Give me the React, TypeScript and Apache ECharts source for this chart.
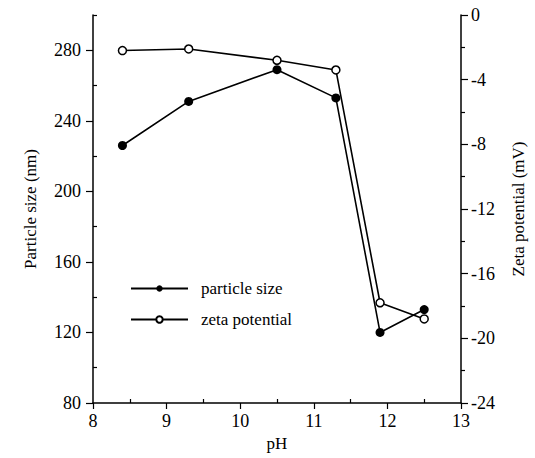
import React, { useEffect, useRef } from "react";
import * as echarts from "echarts";

const pH = [8.4, 9.3, 10.5, 11.3, 11.9, 12.5];
const particleSize = [226, 251, 269, 253, 120, 133];
const zetaPotential = [-2.2, -2.1, -2.8, -3.4, -17.8, -18.8];

const xMajor = [8, 9, 10, 11, 12, 13];
const xMinor = [8.5, 9.5, 10.5, 11.5, 12.5];
const leftMajor = [80, 120, 160, 200, 240, 280];
const leftMinor = [100, 140, 180, 220, 260, 300];
const rightMajor = [0, -4, -8, -12, -16, -20, -24];
const rightMinor = [-2, -6, -10, -14, -18, -22];

const FONT = "'Liberation Serif', 'Times New Roman', serif";

export default function App() {
  const ref = useRef<HTMLDivElement>(null);
  useEffect(() => {
    document.body.style.margin = "0";
    if (!ref.current) return;
    const chart = echarts.init(ref.current, null, { renderer: "svg" });
    const lineAxis = { show: true, onZero: false, lineStyle: { color: "#000", width: 1.5 } };
    const label = { color: "#000", fontFamily: FONT, fontSize: 18 };
    const nameStyle = { color: "#000", fontFamily: FONT, fontSize: 17 };
    chart.setOption({
      animation: false,
      backgroundColor: "#fff",
      grid: { left: 93, right: 74, top: 15, bottom: 55 },
      legend: {
        orient: "vertical",
        left: 125,
        top: 275,
        itemWidth: 57,
        itemHeight: 8,
        itemGap: 14,
        textStyle: { color: "#000", fontFamily: FONT, fontSize: 17, padding: [0, 0, 0, 8] },
        data: ["particle size", "zeta potential"],
      },
      xAxis: [
        {
          type: "value",
          min: 8,
          max: 13,
          interval: 1,
          position: "bottom",
          splitLine: { show: false },
          axisLine: lineAxis,
          axisTick: { show: true, length: 6, lineStyle: { color: "#000", width: 1.2 }, customValues: xMajor },
          axisLabel: { ...label, margin: 9, customValues: xMajor },
          name: "pH",
          nameLocation: "middle",
          nameGap: 29,
          nameTextStyle: nameStyle,
        },
        {
          type: "value",
          min: 8,
          max: 13,
          position: "bottom",
          splitLine: { show: false },
          axisLine: { show: false, onZero: false },
          axisTick: { show: true, inside: true, length: 4, lineStyle: { color: "#000", width: 1.2 }, customValues: xMinor },
          axisLabel: { show: false },
        },
      ],
      yAxis: [
        {
          type: "value",
          min: 80,
          max: 300,
          position: "left",
          splitLine: { show: false },
          axisLine: lineAxis,
          axisTick: { show: true, length: 7, lineStyle: { color: "#000", width: 1.2 }, customValues: leftMajor },
          axisLabel: { ...label, margin: 12, customValues: leftMajor },
          name: "Particle size (nm)",
          nameLocation: "middle",
          nameGap: 54,
          nameTextStyle: nameStyle,
        },
        {
          type: "value",
          min: -24,
          max: 0,
          position: "right",
          splitLine: { show: false },
          axisLine: lineAxis,
          axisTick: { show: true, length: 7, lineStyle: { color: "#000", width: 1.2 }, customValues: rightMajor },
          axisLabel: { ...label, margin: 10, customValues: rightMajor },
          name: "Zeta potential (mV)",
          nameLocation: "middle",
          nameGap: 49,
          nameRotate: 90,
          nameTextStyle: nameStyle,
        },
        {
          type: "value",
          min: 80,
          max: 300,
          position: "left",
          splitLine: { show: false },
          axisLine: { show: false, onZero: false },
          axisTick: { show: true, inside: true, length: 4, lineStyle: { color: "#000", width: 1.2 }, customValues: leftMinor },
          axisLabel: { show: false },
        },
        {
          type: "value",
          min: -24,
          max: 0,
          position: "right",
          splitLine: { show: false },
          axisLine: { show: false, onZero: false },
          axisTick: { show: true, length: 4, lineStyle: { color: "#000", width: 1.2 }, customValues: rightMinor },
          axisLabel: { show: false },
        },
      ],
      series: [
        {
          name: "particle size",
          type: "line",
          yAxisIndex: 0,
          data: pH.map((x, i) => [x, particleSize[i]]),
          symbol: "circle",
          symbolSize: 9,
          itemStyle: { color: "#000" },
          lineStyle: { color: "#000", width: 1.6 },
          z: 3,
        },
        {
          name: "zeta potential",
          type: "line",
          yAxisIndex: 1,
          data: pH.map((x, i) => [x, zetaPotential[i]]),
          symbol: "circle",
          symbolSize: 8,
          itemStyle: { color: "#fff", borderColor: "#000", borderWidth: 1.5 },
          lineStyle: { color: "#000", width: 1.6 },
          z: 2,
        },
      ],
    });
    return () => chart.dispose();
  }, []);
  return <div ref={ref} style={{ width: 535, height: 458 }} />;
}
